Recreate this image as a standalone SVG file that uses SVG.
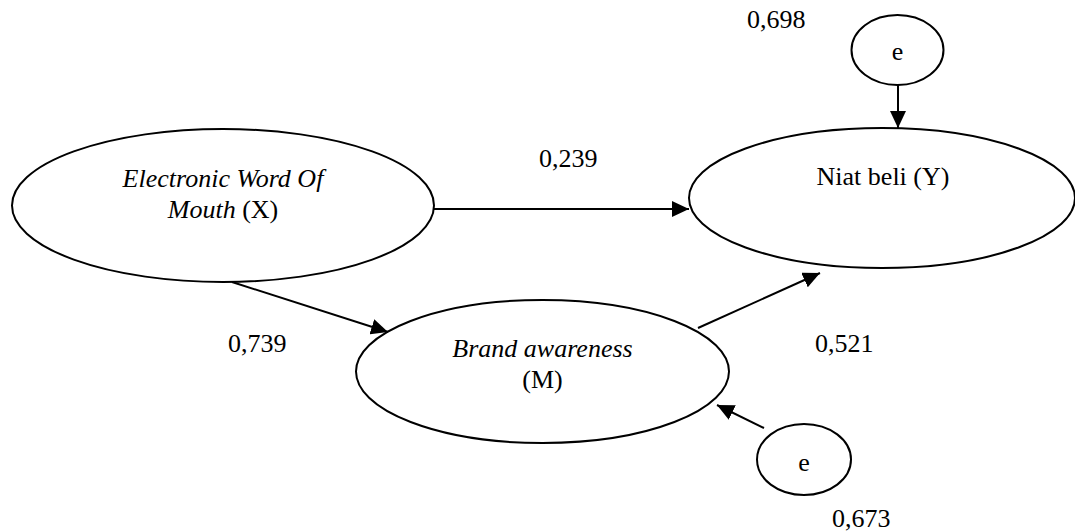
<svg xmlns="http://www.w3.org/2000/svg" width="1075" height="531" viewBox="0 0 1075 531">
<style>
.n{fill:#fff;stroke:#000;stroke-width:2}
.t{font-family:"Times New Roman","Liberation Serif",Tinos,"DejaVu Serif",serif;font-size:26px;fill:#000}
.c{text-anchor:middle}
.i{font-style:italic}
.e{stroke:#000;stroke-width:2;fill:none}
</style>
<defs>
<marker id="ah" markerUnits="userSpaceOnUse" markerWidth="18" markerHeight="16" refX="17" refY="8" orient="auto">
<path d="M0,0 L17,8 L0,16 Z" fill="#000"/>
</marker>
</defs>
<rect width="1075" height="531" fill="#fff"/>
<g id="node-x">
<ellipse class="n" cx="223" cy="205.5" rx="211" ry="76.5"/>
<text class="t c" x="223" y="187" font-family="Times New Roman, Liberation Serif, serif"><tspan class="i">Electronic Word Of</tspan></text>
<text class="t c" x="223" y="218" font-family="Times New Roman, Liberation Serif, serif"><tspan class="i">Mouth</tspan> (X)</text>
</g>
<g id="node-m">
<ellipse class="n" cx="542.5" cy="371.5" rx="186.5" ry="71.5"/>
<text class="t c i" x="542.5" y="357">Brand awareness</text>
<text class="t c" x="542.5" y="388">(M)</text>
</g>
<g id="node-y">
<ellipse class="n" cx="882" cy="198" rx="193" ry="70"/>
<text class="t c" x="883" y="185">Niat beli (Y)</text>
</g>
<g id="node-e1">
<ellipse class="n" cx="897.5" cy="50" rx="46" ry="35"/>
<text class="t c" x="897.5" y="60">e</text>
</g>
<g id="node-e2">
<ellipse class="n" cx="804" cy="459.5" rx="47" ry="35.5"/>
<text class="t c" x="804" y="471">e</text>
</g>
<g id="connectors">
<line class="e" x1="434" y1="209" x2="689" y2="209" marker-end="url(#ah)"/>
<line class="e" x1="232" y1="282" x2="388" y2="332" marker-end="url(#ah)"/>
<line class="e" x1="698" y1="328" x2="820" y2="273" marker-end="url(#ah)"/>
<line class="e" x1="764" y1="428" x2="717" y2="405" marker-end="url(#ah)"/>
<line class="e" x1="898" y1="85" x2="898" y2="128" marker-end="url(#ah)"/>
</g>
<g id="labels">
<text class="t" x="747" y="28">0,698</text>
<text class="t" x="539" y="167">0,239</text>
<text class="t" x="228" y="352">0,739</text>
<text class="t" x="815" y="352">0,521</text>
<text class="t" x="832" y="527">0,673</text>
</g>
</svg>
